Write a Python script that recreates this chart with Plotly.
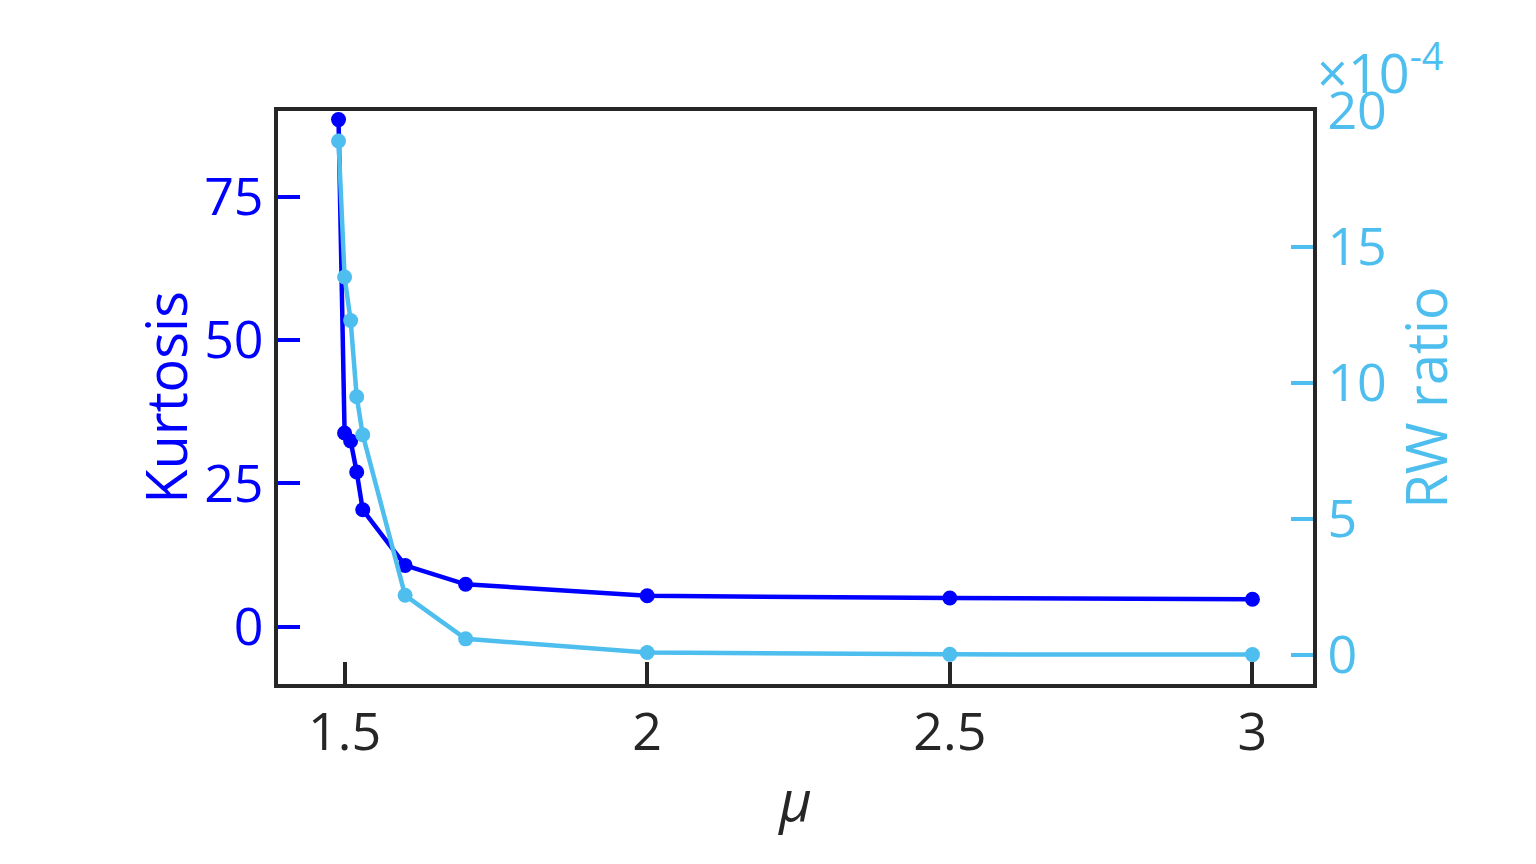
"""
Kurtosis and RW ratio against mu, on two y axes.
"""
import plotly.graph_objects as go

mu = [1.49, 1.50, 1.51, 1.52, 1.53, 1.60, 1.70, 2.0, 2.5, 3.0]
kurtosis = [88.5, 33.8, 32.4, 27.0, 20.4, 10.7, 7.4, 5.4, 5.0, 4.8]
# RW ratio in units of 1e-4
rw_ratio = [18.9, 13.9, 12.3, 9.5, 8.1, 2.2, 0.6, 0.1, 0.03, 0.02]

x_ticks = [1.5, 2, 2.5, 3]
x_tick_text = ["1.5", "2", "2.5", "3"]
k_ticks = [0, 25, 50, 75]
rw_ticks = [0, 5, 10, 15, 20]

blue = "#0000FF"
light = "#4DBEEE"
frame = "#262626"
font = "Open Sans"

fig = go.Figure()
fig.add_trace(go.Scatter(
    x=mu, y=kurtosis, mode="lines+markers", name="Kurtosis",
    line=dict(color=blue, width=4.5), marker=dict(color=blue, size=15),
))
fig.add_trace(go.Scatter(
    x=mu, y=rw_ratio, mode="lines+markers", name="RW ratio", yaxis="y2",
    line=dict(color=light, width=4.5), marker=dict(color=light, size=15),
))

fig.update_layout(
    width=1536, height=864,
    margin=dict(l=270, r=231, t=103, b=188, autoexpand=False),
    paper_bgcolor="white", plot_bgcolor="white",
    showlegend=False,
    font=dict(family=font, size=52),
    xaxis=dict(
        range=[1.39, 3.1], tickvals=x_ticks, ticktext=x_tick_text,
        ticks="inside", ticklen=22, tickwidth=4, tickcolor=frame,
        tickfont=dict(color=frame, size=52),
        showline=True, linewidth=4, linecolor=frame, mirror=True,
        showgrid=False, zeroline=False,
        title=dict(text="<i>μ</i>", font=dict(color=frame, size=56), standoff=18),
    ),
    yaxis=dict(
        range=[-10, 90], tickvals=k_ticks,
        ticks="inside", ticklen=22, tickwidth=4, tickcolor=blue,
        tickfont=dict(color=blue, size=52),
        showline=True, linewidth=4, linecolor=frame,
        showgrid=False, zeroline=False,
        title=dict(text="Kurtosis", font=dict(color=blue, size=56), standoff=0),
    ),
    yaxis2=dict(
        range=[-1.06, 20], tickvals=rw_ticks, overlaying="y", side="right",
        ticks="inside", ticklen=22, tickwidth=4, tickcolor=light,
        tickfont=dict(color=light, size=52),
        showline=True, linewidth=4, linecolor=frame,
        showgrid=False, zeroline=False,
        title=dict(text="RW ratio", font=dict(color=light, size=56), standoff=8),
    ),
)

fig.add_annotation(
    text="×10<sup>-4</sup>", xref="paper", yref="paper", x=1.0, y=1.0,
    xanchor="left", yanchor="bottom", showarrow=False, xshift=2, yshift=0,
    font=dict(family=font, color=light, size=54),
)

fig.write_html("out.html")
